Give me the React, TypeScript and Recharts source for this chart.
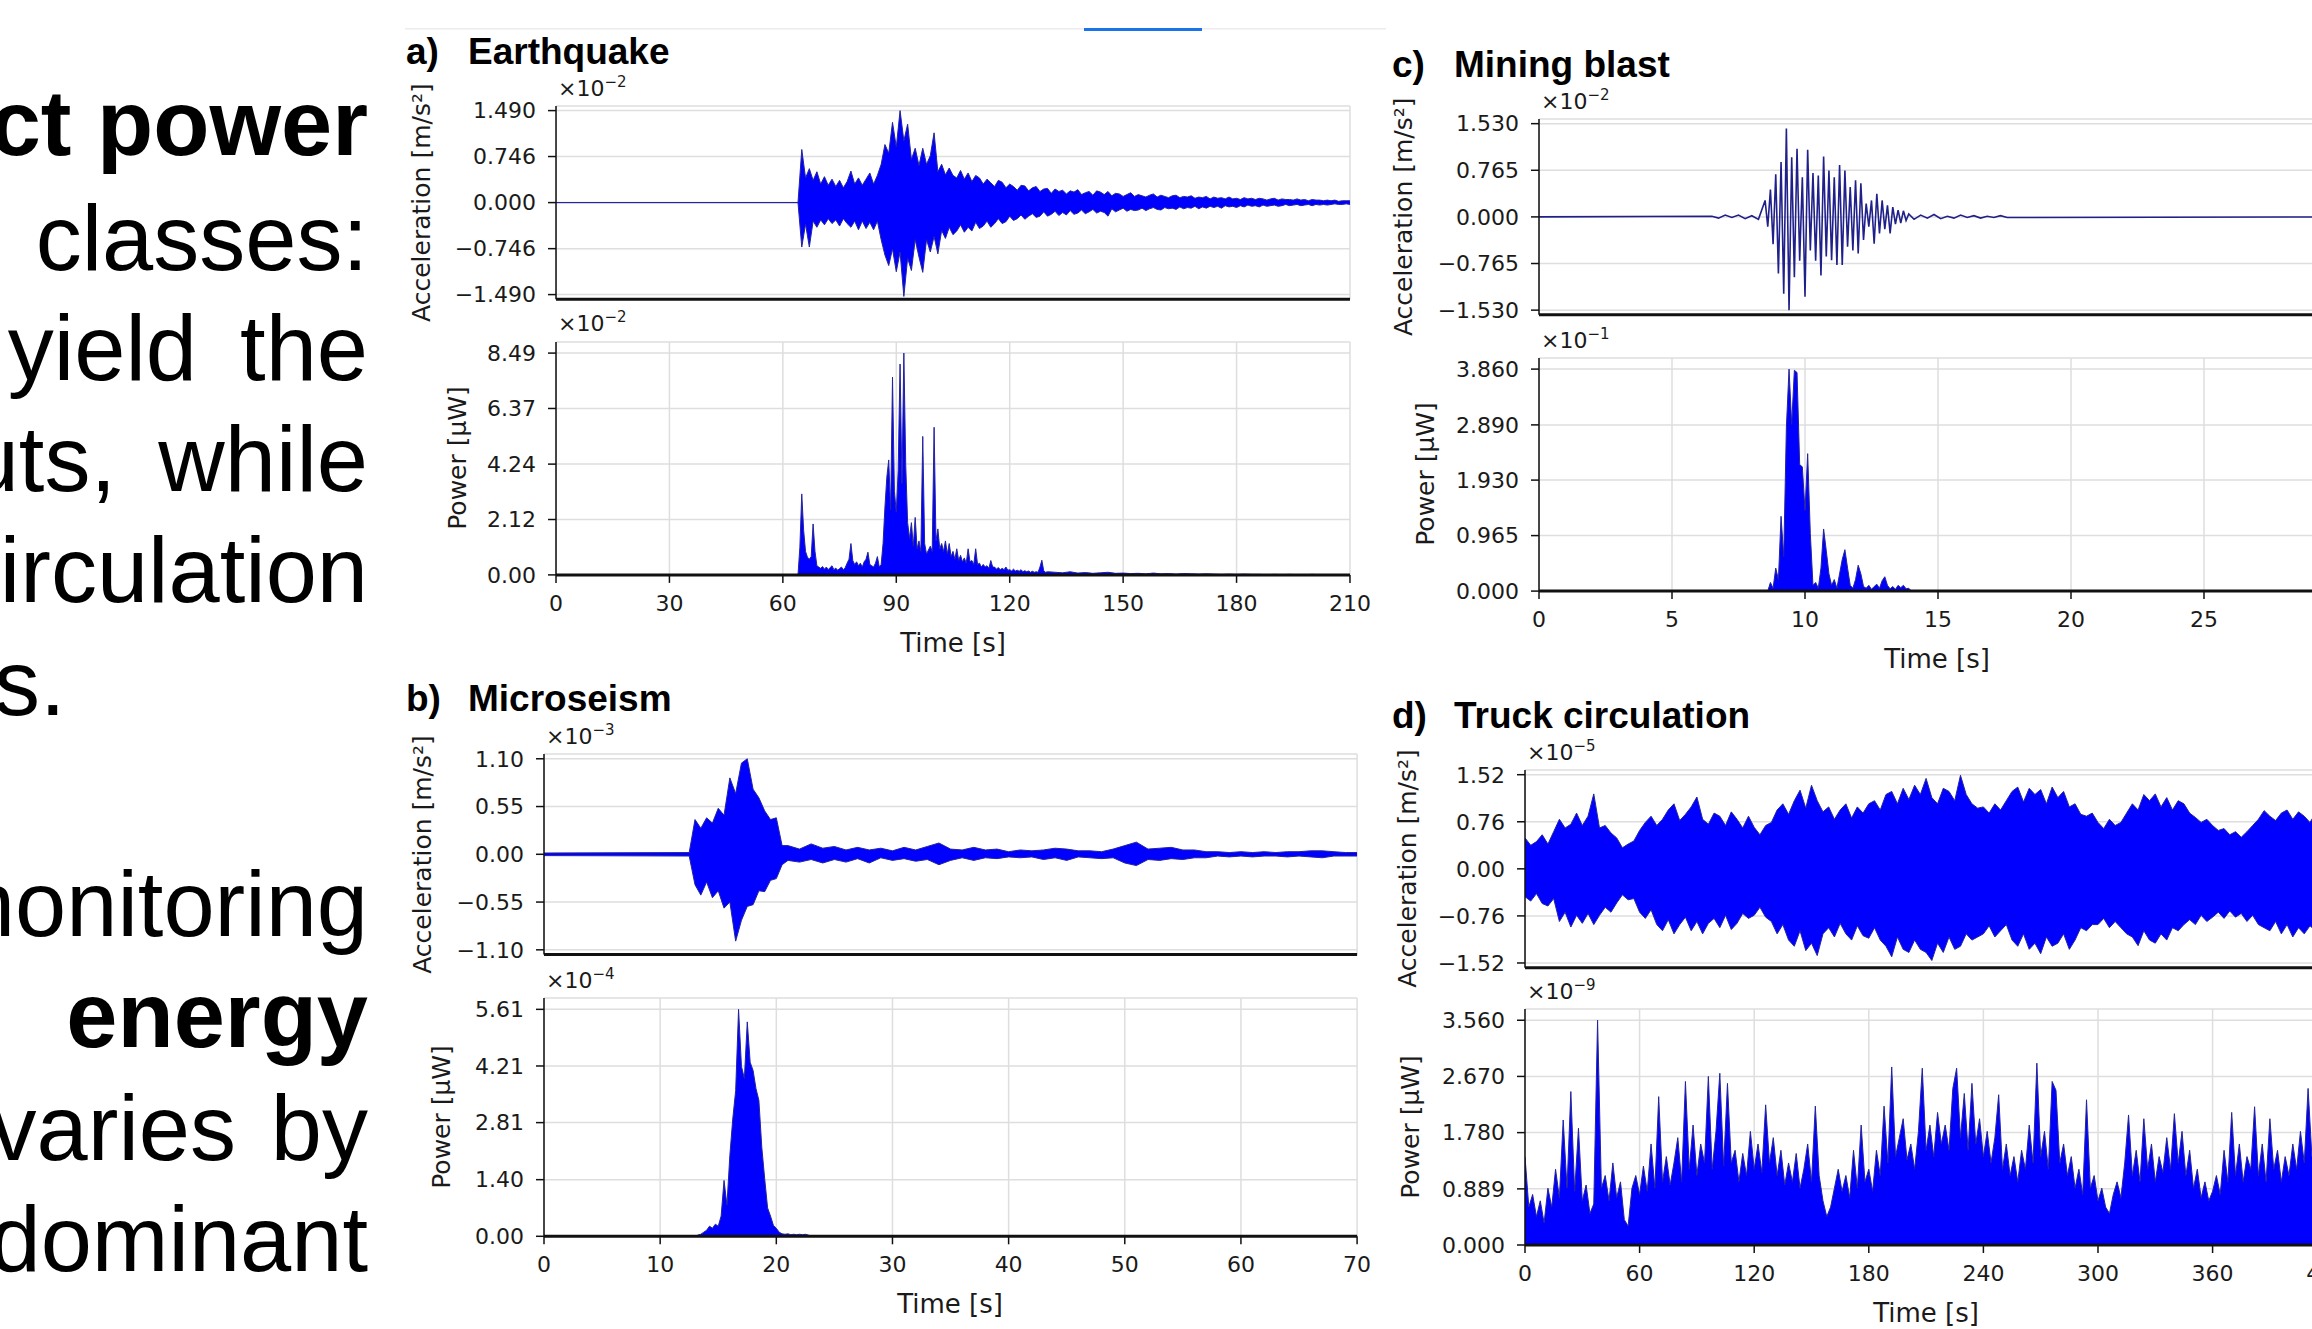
import { ComposedChart, Area, Line, XAxis, YAxis, CartesianGrid } from "recharts"
import type { ReactNode } from "react"

// ---------- a) Earthquake ----------
// acceleration envelope (×1e-2 m/s²), 1 s bins from t = 64 s
const EQ_ACC_HI = [
  0, 0.86, 0.4, 0.55, 0.36, 0.5, 0.3, 0.42, 0.28, 0.38,
  0.26, 0.36, 0.24, 0.34, 0.51, 0.3, 0.4, 0.28, 0.38, 0.48,
  0.3, 0.44, 0.62, 0.94, 0.8, 1.3, 0.9, 1.49, 1.0, 1.27,
  0.7, 0.88, 0.6, 0.88, 0.62, 0.76, 1.13, 0.5, 0.62, 0.45,
  0.56, 0.44, 0.4, 0.52, 0.38, 0.48, 0.34, 0.44, 0.4, 0.3,
  0.38, 0.32, 0.26, 0.36, 0.33, 0.24, 0.3, 0.26, 0.2, 0.28,
  0.27, 0.19, 0.24, 0.26, 0.18, 0.22, 0.23, 0.15, 0.22, 0.18,
  0.2, 0.14, 0.19, 0.17, 0.21, 0.13, 0.16, 0.18, 0.12, 0.19,
  0.17, 0.13, 0.18, 0.11, 0.15, 0.14, 0.1, 0.13, 0.16, 0.1,
  0.13, 0.11, 0.09, 0.12, 0.14, 0.09, 0.12, 0.1, 0.08, 0.11,
  0.12, 0.08, 0.1, 0.09, 0.11, 0.07, 0.09, 0.08, 0.1, 0.06,
  0.09, 0.07, 0.08, 0.06, 0.09, 0.06, 0.07, 0.05, 0.08, 0.06,
  0.07, 0.05, 0.07, 0.06, 0.04, 0.06, 0.07, 0.04, 0.06, 0.05,
  0.05, 0.04, 0.06, 0.04, 0.05, 0.03, 0.05, 0.04, 0.04, 0.03,
  0.04, 0.03, 0.04, 0.02, 0.03, 0.03, 0.03,
]
const EQ_ACC_LO = [
  0, -0.72, -0.35, -0.72, -0.3, -0.4, -0.28, -0.36, -0.26, -0.34,
  -0.28, -0.38, -0.26, -0.34, -0.4, -0.3, -0.44, -0.3, -0.42, -0.32,
  -0.44, -0.3, -0.6, -0.85, -1.02, -0.75, -1.12, -0.8, -1.52, -0.9,
  -1.1, -0.6, -0.88, -1.13, -0.6, -0.8, -0.55, -0.83, -0.45, -0.58,
  -0.4, -0.52, -0.46, -0.36, -0.48, -0.4, -0.46, -0.32, -0.42, -0.38,
  -0.3, -0.4, -0.34, -0.26, -0.34, -0.31, -0.22, -0.29, -0.26, -0.2,
  -0.27, -0.22, -0.18, -0.24, -0.22, -0.15, -0.22, -0.19, -0.14, -0.21,
  -0.16, -0.2, -0.13, -0.19, -0.17, -0.12, -0.18, -0.15, -0.11, -0.17,
  -0.14, -0.16, -0.22, -0.1, -0.15, -0.12, -0.09, -0.14, -0.11, -0.13,
  -0.12, -0.09, -0.13, -0.1, -0.08, -0.11, -0.12, -0.08, -0.1, -0.09,
  -0.11, -0.07, -0.1, -0.08, -0.09, -0.06, -0.1, -0.07, -0.09, -0.06,
  -0.08, -0.06, -0.09, -0.05, -0.07, -0.06, -0.08, -0.05, -0.07, -0.04,
  -0.06, -0.05, -0.07, -0.04, -0.06, -0.05, -0.04, -0.06, -0.05, -0.03,
  -0.05, -0.04, -0.03, -0.05, -0.04, -0.03, -0.05, -0.03, -0.04, -0.03,
  -0.04, -0.03, -0.02, -0.03, -0.03, -0.02, -0.03,
]
// power (×1e-2 µW), 0.5 s steps from t = 64 s, then 2 s steps from t = 132 s
const EQ_PWR = [
  0, 1.06, 3.1, 1.7, 0.9, 0.68, 0.6, 0.7, 1.95, 0.9,
  0.35, 0.3, 0.25, 0.32, 0.22, 0.3, 0.2, 0.28, 0.35, 0.2,
  0.26, 0.18, 0.24, 0.3, 0.2, 0.28, 0.45, 0.6, 1.2, 0.55,
  0.4, 0.5, 0.35, 0.45, 0.3, 0.5, 0.6, 0.87, 0.4, 0.35,
  0.3, 0.45, 0.7, 0.3, 0.4, 1.2, 2.6, 3.74, 4.4, 2.5,
  7.57, 3.2, 2.4, 4.0, 8.07, 3.5, 8.49, 4.2, 2.0, 1.4,
  2.0, 1.1, 2.2, 1.0, 1.3, 0.9, 5.3, 1.2, 0.8, 0.95,
  1.1, 0.9, 5.65, 1.3, 1.76, 1.0, 1.2, 0.9, 1.3, 0.8,
  1.2, 0.7, 0.9, 0.6, 1.0, 0.55, 0.75, 0.5, 0.65, 0.45,
  1.0, 0.5, 0.55, 0.4, 1.0, 0.4, 0.45, 0.3, 0.4, 0.3,
  0.35, 0.25, 0.55, 0.3, 0.3, 0.22, 0.28, 0.2, 0.25, 0.2,
  0.3, 0.18, 0.2, 0.15, 0.22, 0.15, 0.18, 0.14, 0.2, 0.12,
  0.16, 0.12, 0.15, 0.1, 0.14, 0.1, 0.12, 0.1, 0.3, 0.56,
  0.15, 0.1, 0.12,
]
const EQ_PWR_TAIL = [
  0.1, 0.08, 0.12, 0.07, 0.09, 0.06, 0.08, 0.1, 0.06, 0.07,
  0.05, 0.06, 0.04, 0.07, 0.04, 0.05, 0.03, 0.05, 0.04, 0.03,
  0.04, 0.03, 0.02, 0.03, 0.02, 0.03, 0.02, 0.02, 0.01, 0.02,
  0.01, 0.02, 0.01, 0.01, 0.02, 0.01, 0.01, 0.01, 0.01, 0.01,
]

// ---------- b) Microseism ----------
// acceleration envelope (×1e-3), 0.5 s bins from 12.5 s, then 1 s bins from 21 s
const MS_ACC_HI_1 = [0.02, 0.4, 0.3, 0.42, 0.36, 0.53, 0.45, 0.88, 0.7, 1.05, 1.1, 0.75, 0.65, 0.5, 0.4, 0.42, 0.1]
const MS_ACC_LO_1 = [-0.02, -0.35, -0.47, -0.32, -0.5, -0.42, -0.62, -0.55, -1.0, -0.76, -0.6, -0.58, -0.42, -0.43, -0.3, -0.28, -0.12]
const MS_ACC_HI_2 = [
  0.1, 0.06, 0.12, 0.07, 0.09, 0.05, 0.08, 0.05, 0.07, 0.04,
  0.08, 0.05, 0.09, 0.13, 0.06, 0.05, 0.08, 0.05, 0.06, 0.03,
  0.05, 0.04, 0.05, 0.07, 0.06, 0.04, 0.04, 0.03, 0.06, 0.1,
  0.14, 0.06, 0.07, 0.08, 0.05, 0.05, 0.03, 0.03, 0.02, 0.03,
  0.02, 0.03, 0.02, 0.03, 0.03, 0.04, 0.04, 0.03, 0.02, 0.02,
]
const MS_ACC_LO_2 = [
  -0.07, -0.09, -0.06, -0.1, -0.06, -0.09, -0.05, -0.1, -0.04, -0.07,
  -0.05, -0.08, -0.06, -0.12, -0.07, -0.04, -0.07, -0.04, -0.05, -0.03,
  -0.04, -0.03, -0.06, -0.04, -0.07, -0.03, -0.04, -0.05, -0.04, -0.1,
  -0.13, -0.06, -0.07, -0.05, -0.06, -0.04, -0.04, -0.02, -0.03, -0.02,
  -0.03, -0.02, -0.02, -0.03, -0.02, -0.03, -0.04, -0.02, -0.02, -0.02,
]
// power (×1e-4 µW), 0.25 s steps from 13 s
const MS_PWR = [
  0, 0.03, 0.05, 0.1, 0.15, 0.25, 0.2, 0.3, 0.25, 0.5,
  1.38, 0.77, 2.0, 2.9, 3.6, 5.61, 4.2, 3.9, 5.3, 4.3,
  4.1, 3.65, 3.36, 2.2, 1.42, 0.7, 0.5, 0.27, 0.2, 0.1,
  0.06, 0.05, 0.06, 0.04, 0.05, 0.04, 0.05, 0.04, 0.05, 0.03,
  0,
]

// ---------- c) Mining blast ----------
// acceleration trace (×1e-2): pre-event noise 0.25 s from 6.5 s, main 0.1 s from 8.5 s, coda 0.25 s from 14.1 s
const MB_PRE = [0.01, -0.02, 0.03, -0.01, 0.03, -0.03, 0.02, -0.04]
const MB_ACC = [
  0.27, -0.16, 0.45, -0.45, 0.7,
  -0.93, 0.9, -1.26, 1.45, -1.53, 0.98, -0.99, 1.12, -0.72, 0.65,
  -1.31, 1.1, -0.55, 0.72, -0.72, 0.68, -0.96, 0.99, -0.65, 0.76,
  -0.71, 0.65, -0.79, 0.85, -0.79, 0.76, -0.49, 0.49, -0.55, 0.6,
  -0.6, 0.55, -0.38, 0.22, -0.16, 0.27, -0.44, 0.38, -0.27, 0.27,
  -0.2, 0.19, -0.27, 0.16, -0.12, 0.11, -0.1, 0.1, -0.06, 0.05,
]
const MB_POST = [-0.04, 0.03, -0.02, 0.04, -0.03, 0.01, -0.02, 0.03, -0.01, 0.02, -0.02, 0.01, -0.01, 0.02, -0.01]
// power (×1e-1 µW), 0.1 s steps from 8.6 s
const MB_PWR = [
  0, 0.15, 0.05, 0.4,
  0.2, 1.3, 0.6, 2.85, 3.86, 2.9, 3.84, 3.8, 2.2, 2.16,
  1.4, 2.39, 1.0, 0.1, 0.15, 0.05, 0.4, 1.08, 0.7, 0.3,
  0.1, 0.2, 0.05, 0.3, 0.55, 0.72, 0.4, 0.1, 0.05, 0.2,
  0.45, 0.3, 0.08, 0.05, 0.1, 0.03, 0.08, 0.12, 0.05, 0.18,
  0.25, 0.1, 0.04, 0.08, 0.03, 0.1, 0.06, 0.1, 0.04, 0.05,
  0,
]

// ---------- d) Truck circulation ----------
// acceleration envelope (×1e-5), 3 s bins from 0 s
const TR_ACC_HI = [
  0.5, 0.38, 0.44, 0.55, 0.4, 0.6, 0.8, 0.66, 0.72, 0.9,
  0.7, 0.85, 1.21, 0.66, 0.7, 0.58, 0.5, 0.34, 0.4, 0.45,
  0.62, 0.75, 0.85, 0.7, 0.8, 0.95, 1.05, 0.78, 0.88, 1.0,
  1.16, 0.8, 0.72, 0.9, 0.85, 0.7, 0.92, 0.8, 0.66, 0.85,
  0.67, 0.55, 0.7, 0.75, 0.95, 1.05, 0.88, 1.1, 1.27, 0.98,
  1.35, 1.1, 0.92, 1.0, 0.8, 0.95, 1.05, 0.82, 1.0, 0.9,
  1.05, 1.1, 0.95, 1.2, 1.25, 1.05, 1.3, 1.12, 1.35, 1.2,
  1.46, 1.15, 1.05, 1.3, 1.25, 1.1, 1.51, 1.2, 1.05, 0.98,
  1.0, 0.9, 1.05, 0.95, 1.1, 1.25, 1.32, 1.08, 1.3, 1.2,
  1.28, 1.05, 1.32, 1.15, 1.25, 1.0, 1.05, 0.88, 0.85, 0.9,
  0.75, 0.65, 0.8, 0.7, 0.75, 0.9, 1.05, 0.95, 1.2, 1.1,
  1.21, 1.0, 1.15, 0.95, 1.1, 1.05, 0.9, 0.83, 0.75, 0.8,
  0.7, 0.62, 0.65, 0.55, 0.6, 0.51, 0.6, 0.7, 0.8, 0.94,
  0.85, 0.78, 0.9, 0.95, 0.8, 0.92, 0.85, 0.75, 0.9, 0.85,
  0.9,
]
const TR_ACC_LO = [
  -0.45, -0.52, -0.4, -0.56, -0.6, -0.48, -0.85, -0.7, -0.94, -0.75,
  -0.88, -0.72, -0.9, -0.75, -0.62, -0.7, -0.55, -0.42, -0.5, -0.48,
  -0.7, -0.8, -0.66, -0.9, -1.0, -0.82, -1.05, -0.9, -0.78, -1.0,
  -0.85, -1.05, -0.88, -0.8, -0.95, -0.75, -0.98, -0.88, -0.72, -0.8,
  -0.75, -0.62, -0.78, -0.85, -1.05, -0.9, -1.15, -1.25, -1.0, -1.32,
  -1.2, -1.4, -1.05, -0.95, -1.1, -0.88, -1.05, -1.15, -0.92, -1.08,
  -1.12, -0.95, -1.15, -1.25, -1.42, -1.1, -1.3, -1.35, -1.15, -1.3,
  -1.35, -1.48, -1.2, -1.35, -1.1, -1.3, -1.25, -1.05, -1.15, -1.1,
  -1.05, -0.92, -1.1, -1.0, -0.9, -1.15, -1.25, -1.05, -1.3, -1.2,
  -1.37, -1.1, -1.25, -1.2, -1.05, -1.3, -1.15, -0.95, -1.0, -0.9,
  -0.9, -0.8, -0.95, -0.85, -0.95, -1.05, -1.1, -1.24, -1.0, -1.15,
  -1.2, -1.05, -1.15, -0.95, -1.0, -0.9, -0.82, -0.9, -0.75, -0.85,
  -0.78, -0.7, -0.8, -0.68, -0.78, -0.72, -0.85, -0.75, -0.9, -0.95,
  -1.0, -0.85, -1.05, -0.9, -1.1, -0.95, -1.05, -0.92, -1.0, -0.88,
  -1.0,
]
// power (×1e-9 µW), 2 s steps from 0 s
const TR_PWR = [
  1.4, 0.6, 0.8, 0.45, 0.7, 0.35, 0.9, 0.6, 1.2, 0.75,
  1.98, 0.9, 2.43, 0.85, 1.85, 0.7, 0.95, 0.5, 0.65, 3.56,
  0.9, 1.1, 0.7, 1.3, 0.75, 1.0, 0.4, 0.3, 0.9, 1.1,
  0.8, 1.25, 0.85, 1.6, 0.9, 2.35, 1.0, 1.4, 0.95, 1.3,
  1.7, 1.0, 2.59, 1.2, 1.9, 1.1, 1.6, 1.3, 2.67, 1.2,
  1.8, 2.72, 1.25, 2.56, 1.3, 1.5, 1.0, 1.45, 1.1, 1.8,
  1.2, 1.6, 1.15, 2.22, 1.3, 1.7, 1.1, 1.5, 0.95, 1.3,
  1.0, 1.45, 0.9, 1.2, 1.6, 1.0, 2.2, 1.1, 0.7, 0.45,
  0.6, 0.9, 1.2, 0.85, 1.1, 0.75, 1.5, 0.9, 1.9, 1.0,
  1.2, 0.85, 1.5, 1.1, 2.2, 1.3, 2.82, 1.4, 1.7, 2.0,
  1.35, 1.6, 1.2, 1.8, 2.8, 1.5, 1.9, 1.4, 2.1, 1.6,
  1.9, 1.5, 2.48, 2.8, 1.7, 2.4, 1.5, 2.56, 1.6, 2.0,
  1.4, 1.8, 1.3, 1.7, 2.38, 1.2, 1.6, 1.1, 1.4, 1.0,
  1.5, 1.2, 1.9, 1.3, 2.88, 1.4, 1.8, 1.2, 2.59, 2.45,
  1.3, 1.6, 1.1, 1.4, 0.9, 1.2, 0.8, 2.3, 0.9, 1.1,
  0.7, 0.9, 0.6, 0.5, 0.8, 1.0, 0.75, 1.3, 2.06, 1.1,
  1.5, 1.0, 2.0, 1.2, 1.6, 1.0, 1.4, 1.15, 1.7, 1.2,
  2.08, 1.3, 1.8, 1.1, 1.5, 0.9, 1.2, 0.75, 1.0, 0.7,
  0.85, 1.1, 0.8, 1.5, 1.0, 2.1, 1.1, 1.6, 1.0, 1.4,
  1.2, 2.19, 1.1, 1.6, 1.0, 2.0, 1.2, 1.5, 1.0, 1.4,
  1.1, 1.6, 1.2, 1.8, 1.3, 2.48, 1.4, 1.5, 1.1, 1.7,
  1.2,
]

// ---------- axes ----------
const EQ_X_TICKS = [0, 30, 60, 90, 120, 150, 180, 210]
const MS_X_TICKS = [0, 10, 20, 30, 40, 50, 60, 70]
const MB_X_TICKS = [0, 5, 10, 15, 20, 25, 30]
const TR_X_TICKS = [0, 60, 120, 180, 240, 300, 360, 420]

const EQ_ACC_TICKS = [-1.49, -0.746, 0, 0.746, 1.49]
const EQ_PWR_TICKS = [0, 2.12, 4.24, 6.37, 8.49]
const MS_ACC_TICKS = [-1.1, -0.55, 0, 0.55, 1.1]
const MS_PWR_TICKS = [0, 1.4, 2.81, 4.21, 5.61]
const MB_ACC_TICKS = [-1.53, -0.765, 0, 0.765, 1.53]
const MB_PWR_TICKS = [0, 0.965, 1.93, 2.89, 3.86]
const TR_ACC_TICKS = [-1.52, -0.76, 0, 0.76, 1.52]
const TR_PWR_TICKS = [0, 0.889, 1.78, 2.67, 3.56]

type Row = { t: number; v?: number; r?: [number, number] }
const at = (t0: number, dt: number, i: number) => Math.round((t0 + i * dt) * 1000) / 1000
const trace = (t0: number, dt: number, vals: number[]): Row[] => vals.map((v, i) => ({ t: at(t0, dt, i), v }))
const band = (t0: number, dt: number, hi: number[], lo: number[]): Row[] =>
  hi.map((h, i) => ({ t: at(t0, dt, i), r: [lo[i], h] as [number, number] }))

const EQ_ACC_ROWS: Row[] = [{ t: 0, r: [0, 0] }, ...band(64, 1, EQ_ACC_HI, EQ_ACC_LO)]
const EQ_PWR_ROWS: Row[] = [...trace(64, 0.5, EQ_PWR), ...trace(132, 2, EQ_PWR_TAIL)]
const MS_ACC_ROWS: Row[] = [
  { t: 0, r: [-0.015, 0.015] },
  ...band(12.5, 0.5, MS_ACC_HI_1, MS_ACC_LO_1),
  ...band(21, 1, MS_ACC_HI_2, MS_ACC_LO_2),
]
const MS_PWR_ROWS = trace(13, 0.25, MS_PWR)
const MB_ACC_ROWS: Row[] = [
  { t: 0, v: 0 },
  ...trace(6.5, 0.25, MB_PRE),
  ...trace(8.5, 0.1, MB_ACC),
  ...trace(14.1, 0.25, MB_POST),
  { t: 30, v: 0 },
]
const MB_PWR_ROWS = trace(8.6, 0.1, MB_PWR)
const TR_ACC_ROWS = band(0, 3, TR_ACC_HI, TR_ACC_LO)
const TR_PWR_ROWS = trace(0, 2, TR_PWR)

// ---------- drawing ----------
const BLUE = "#0000ff"
const EDGE = "#2323a0"
const SANS = "'Liberation Sans', Arial, Helvetica, sans-serif"
const DV = "'DejaVu Sans', Verdana, sans-serif"
const TICK = { fontSize: 22, fill: "#1a1a1a", fontFamily: DV }
const YW = 140
const MT = 6
const MR = 44

type Box = { x: number; y: number; w: number; h: number }

const fmt = (d: number) => (v: number) => (v < 0 ? "\u2212" : "") + Math.abs(v).toFixed(d)

function Frame(props: {
  box: Box
  data: Row[]
  xDomain: [number, number]
  xTicks: number[]
  yDomain: [number, number]
  yTicks: number[]
  digits: number
  labels?: boolean
  children: ReactNode
}) {
  const { box, data, xDomain, xTicks, yDomain, yTicks, digits, labels } = props
  const xh = labels ? 56 : 8
  return (
    <div style={{ position: "absolute", left: box.x - YW, top: box.y - MT }}>
      <ComposedChart
        width={YW + box.w + MR}
        height={MT + box.h + xh}
        data={data}
        margin={{ top: MT, right: MR, left: 0, bottom: 0 }}
      >
        <CartesianGrid stroke="#dedede" strokeWidth={1.5} />
        <XAxis
          type="number"
          dataKey="t"
          domain={xDomain}
          ticks={xTicks}
          interval={0}
          allowDataOverflow
          height={xh}
          axisLine={{ stroke: "#111", strokeWidth: 3 }}
          tickLine={labels ? { stroke: "#111", strokeWidth: 1.5 } : false}
          tick={labels ? TICK : false}
          tickSize={8}
          tickMargin={12}
        />
        <YAxis
          type="number"
          domain={yDomain}
          ticks={yTicks}
          interval={0}
          allowDataOverflow
          width={YW}
          axisLine={{ stroke: "#111", strokeWidth: 1.5 }}
          tickLine={{ stroke: "#111", strokeWidth: 1.5 }}
          tick={TICK}
          tickSize={8}
          tickMargin={12}
          tickFormatter={fmt(digits)}
        />
        {props.children}
      </ComposedChart>
    </div>
  )
}

const bandArea = (
  <Area
    dataKey="r"
    type="linear"
    stroke={EDGE}
    strokeWidth={1}
    fill={BLUE}
    fillOpacity={1}
    dot={false}
    activeDot={false}
    isAnimationActive={false}
  />
)
const powerArea = (
  <Area
    dataKey="v"
    type="linear"
    baseValue={0}
    stroke={EDGE}
    strokeWidth={1}
    fill={BLUE}
    fillOpacity={1}
    dot={false}
    activeDot={false}
    isAnimationActive={false}
  />
)

function Exp({ x, y, p }: { x: number; y: number; p: string }) {
  return (
    <text x={x} y={y} fontFamily={DV} fontSize={22} fill="#1a1a1a">
      ×10
      <tspan fontSize={15} dy={-9}>
        {"\u2212" + p}
      </tspan>
    </text>
  )
}

function VLabel({ x, y, s }: { x: number; y: number; s: string }) {
  return (
    <text
      x={x}
      y={y}
      transform={`rotate(-90 ${x} ${y})`}
      textAnchor="middle"
      dominantBaseline="central"
      fontFamily={DV}
      fontSize={25}
      fill="#1a1a1a"
    >
      {s}
    </text>
  )
}

function Title({ x, y, k, s }: { x: number; y: number; k: string; s: string }) {
  return (
    <g fontFamily={SANS} fontWeight="bold" fontSize={37} fill="#000">
      <text x={x} y={y}>
        {k}
      </text>
      <text x={x + 62} y={y}>
        {s}
      </text>
    </g>
  )
}

function TimeLabel({ x, y }: { x: number; y: number }) {
  return (
    <text x={x} y={y} textAnchor="middle" fontFamily={DV} fontSize={26} fill="#1a1a1a">
      Time [s]
    </text>
  )
}

const A_ACC = { x: 556, y: 106, w: 794, h: 193.2 }
const A_PWR = { x: 556, y: 341.6, w: 794, h: 232.9 }
const B_ACC = { x: 543.5, y: 754.2, w: 813.1, h: 200.6 }
const B_PWR = { x: 543.5, y: 997.7, w: 813.1, h: 238.3 }
const C_ACC = { x: 1538.7, y: 118.9, w: 798, h: 195.8 }
const C_PWR = { x: 1538.7, y: 357.5, w: 798, h: 233.1 }
const D_ACC = { x: 1524.5, y: 769.7, w: 802.2, h: 197.7 }
const D_PWR = { x: 1524.5, y: 1009, w: 802.2, h: 236 }

export default function App() {
  return (
    <div
      style={{
        position: "fixed",
        left: 0,
        top: 0,
        width: 2312,
        height: 1329,
        overflow: "hidden",
        background: "#fff",
      }}
    >
      <Frame box={A_ACC} data={EQ_ACC_ROWS} xDomain={[0, 210]} xTicks={EQ_X_TICKS} yDomain={[-1.5645, 1.5645]} yTicks={EQ_ACC_TICKS} digits={3}>
        {bandArea}
      </Frame>
      <Frame box={A_PWR} data={EQ_PWR_ROWS} xDomain={[0, 210]} xTicks={EQ_X_TICKS} yDomain={[0, 8.9145]} yTicks={EQ_PWR_TICKS} digits={2} labels>
        {powerArea}
      </Frame>
      <Frame box={B_ACC} data={MS_ACC_ROWS} xDomain={[0, 70]} xTicks={MS_X_TICKS} yDomain={[-1.155, 1.155]} yTicks={MS_ACC_TICKS} digits={2}>
        {bandArea}
      </Frame>
      <Frame box={B_PWR} data={MS_PWR_ROWS} xDomain={[0, 70]} xTicks={MS_X_TICKS} yDomain={[0, 5.8905]} yTicks={MS_PWR_TICKS} digits={2} labels>
        {powerArea}
      </Frame>
      <Frame box={C_ACC} data={MB_ACC_ROWS} xDomain={[0, 30]} xTicks={MB_X_TICKS} yDomain={[-1.6065, 1.6065]} yTicks={MB_ACC_TICKS} digits={3}>
        <Line dataKey="v" type="linear" stroke="#20208a" strokeWidth={1.6} dot={false} activeDot={false} isAnimationActive={false} />
      </Frame>
      <Frame box={C_PWR} data={MB_PWR_ROWS} xDomain={[0, 30]} xTicks={MB_X_TICKS} yDomain={[0, 4.053]} yTicks={MB_PWR_TICKS} digits={3} labels>
        {powerArea}
      </Frame>
      <Frame box={D_ACC} data={TR_ACC_ROWS} xDomain={[0, 420]} xTicks={TR_X_TICKS} yDomain={[-1.596, 1.596]} yTicks={TR_ACC_TICKS} digits={2}>
        {bandArea}
      </Frame>
      <Frame box={D_PWR} data={TR_PWR_ROWS} xDomain={[0, 420]} xTicks={TR_X_TICKS} yDomain={[0, 3.738]} yTicks={TR_PWR_TICKS} digits={3} labels>
        {powerArea}
      </Frame>

      <svg width={2312} height={1329} style={{ position: "absolute", left: 0, top: 0, pointerEvents: "none" }}>
        <rect x={405} y={28} width={981} height={1.5} fill="#ececec" />
        <rect x={1084} y={28} width={118} height={3} fill="#1a73e8" />

        <g fontFamily={SANS} fontSize={92} fill="#000">
          <text x={368} y={155} textAnchor="end" fontWeight="bold">ct power</text>
          <text x={368} y={270} textAnchor="end">classes:</text>
          <text x={197} y={380} textAnchor="end">yield</text>
          <text x={368} y={380} textAnchor="end">the</text>
          <text x={116} y={491} textAnchor="end">uts,</text>
          <text x={368} y={491} textAnchor="end">while</text>
          <text x={368} y={602} textAnchor="end">circulation</text>
          <text x={-6} y={715}>s.</text>
          <text x={368} y={936} textAnchor="end">monitoring</text>
          <text x={368} y={1047} textAnchor="end" fontWeight="bold">energy</text>
          <text x={236} y={1160} textAnchor="end">varies</text>
          <text x={368} y={1160} textAnchor="end">by</text>
          <text x={368} y={1271} textAnchor="end">dominant</text>
        </g>

        <Title x={406} y={64} k="a)" s="Earthquake" />
        <Exp x={558} y={96} p="2" />
        <Exp x={558} y={331} p="2" />
        <VLabel x={422} y={202.6} s="Acceleration [m/s²]" />
        <VLabel x={457} y={458} s="Power [µW]" />
        <TimeLabel x={953} y={652} />

        <Title x={406} y={711} k="b)" s="Microseism" />
        <Exp x={546} y={744} p="3" />
        <Exp x={546} y={988} p="4" />
        <VLabel x={422} y={854.5} s="Acceleration [m/s²]" />
        <VLabel x={441} y={1117} s="Power [µW]" />
        <TimeLabel x={950} y={1313} />

        <Title x={1392} y={77} k="c)" s="Mining blast" />
        <Exp x={1541} y={109} p="2" />
        <Exp x={1541} y={348} p="1" />
        <VLabel x={1404} y={216.8} s="Acceleration [m/s²]" />
        <VLabel x={1425} y={474} s="Power [µW]" />
        <TimeLabel x={1937} y={668} />

        <Title x={1392} y={728} k="d)" s="Truck circulation" />
        <Exp x={1527} y={760} p="5" />
        <Exp x={1527} y={999} p="9" />
        <VLabel x={1407} y={868.5} s="Acceleration [m/s²]" />
        <VLabel x={1410} y={1127} s="Power [µW]" />
        <TimeLabel x={1926} y={1322} />
      </svg>
    </div>
  )
}
